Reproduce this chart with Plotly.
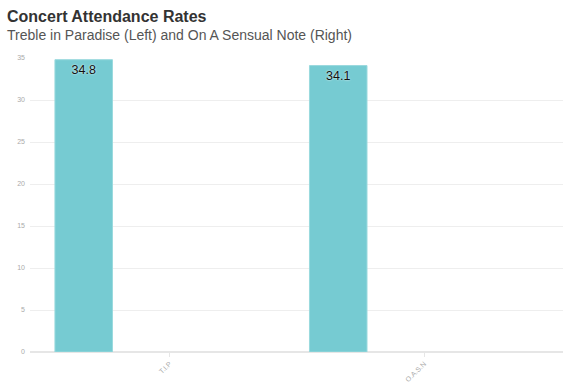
import plotly.graph_objects as go

categories = ["T.I.P", "O.A.S.N"]
attendance = [34.8, 34.1]
value_labels = ["34.8", "34.1"]
y_ticks = [0, 5, 10, 15, 20, 25, 30, 35]
title_text = "Concert Attendance Rates"
subtitle_text = "Treble in Paradise (Left) and On A Sensual Note (Right)"

FONT = "Helvetica, Arial, Liberation Sans, sans-serif"

fig = go.Figure()
fig.add_trace(go.Bar(
    x=categories,
    y=attendance,
    text=value_labels,
    textposition="inside",
    insidetextanchor="end",
    textangle=0,
    textfont=dict(family=FONT, size=12.5, color="#111",
                  shadow="0px 0px 2px white"),
    marker=dict(color="#76CBD2", line=dict(color="#9ad9de", width=1)),
    width=0.226,
    offset=-0.45,
    cliponaxis=False,
    hoverinfo="skip",
))

fig.add_annotation(
    text="<b>" + title_text + "</b>",
    xref="paper", yref="paper", x=-24 / 533, y=1 + 41 / 294,
    xanchor="left", yanchor="middle", showarrow=False, borderpad=0,
    font=dict(family=FONT, size=16, color="#333"),
)
fig.add_annotation(
    text=subtitle_text,
    xref="paper", yref="paper", x=-24 / 533, y=1 + 23 / 294,
    xanchor="left", yanchor="middle", showarrow=False, borderpad=0,
    font=dict(family=FONT, size=14, color="#555"),
)

fig.update_layout(
    width=571,
    height=382,
    margin=dict(l=30, r=8, t=58, b=30, autoexpand=False),
    paper_bgcolor="white",
    plot_bgcolor="white",
    showlegend=False,
    font=dict(family=FONT),
    uniformtext=dict(minsize=12.5, mode="show"),
    xaxis=dict(
        type="category",
        range=[-0.548, 1.546],
        showgrid=False,
        zeroline=False,
        showline=False,
        ticks="outside",
        ticklen=4,
        tickcolor="#e6e6e6",
        tickangle=-45,
        tickfont=dict(size=7, color="#aaa"),
        automargin=False,
    ),
    yaxis=dict(
        range=[0, 35],
        tickvals=y_ticks,
        showgrid=True,
        gridcolor="#eeeeee",
        gridwidth=1,
        zeroline=True,
        zerolinecolor="#e6e6e6",
        showline=False,
        tickfont=dict(size=7, color="#aaa"),
        ticklabelstandoff=4,
        automargin=False,
    ),
)

fig.write_html(
    "out.html",
    config={"displayModeBar": False},
    post_script="document.body.style.margin='0';document.body.style.overflow='hidden';",
)
